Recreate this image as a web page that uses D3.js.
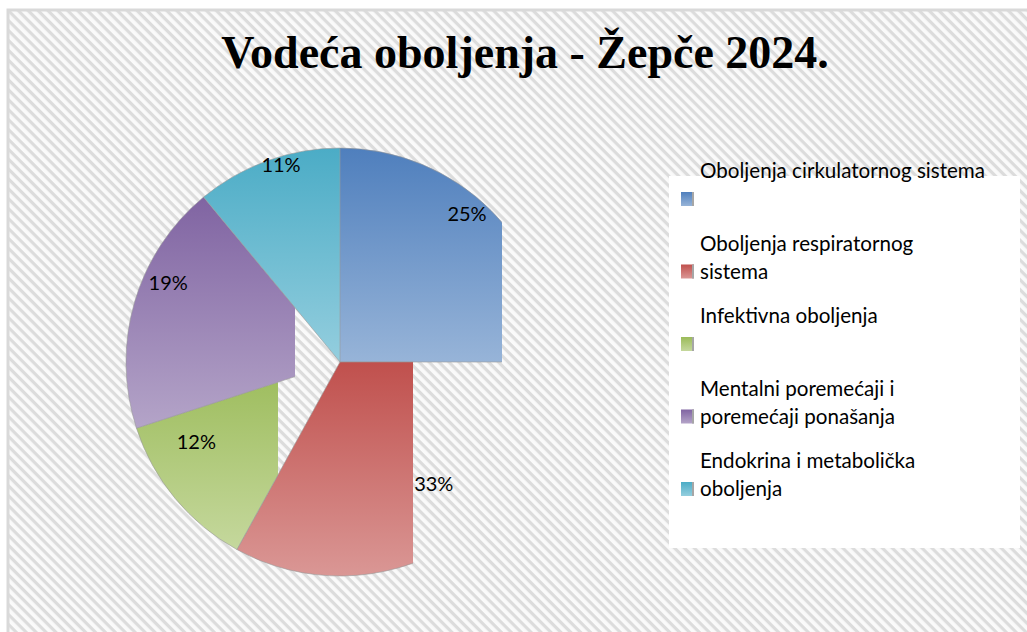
<!DOCTYPE html>
<html>
<head>
<meta charset="utf-8">
<script src="https://cdn.jsdelivr.net/npm/d3@7"></script>
<style>
  body { margin: 0; background: #fff; }
  svg { display: block; }
</style>
</head>
<body>
<div id="chart"></div>
<script>
// data
const title = "Vodeća oboljenja - Žepče 2024.";
const categories = [
  "Oboljenja cirkulatornog sistema",
  "Oboljenja respiratornog sistema",
  "Infektivna oboljenja",
  "Mentalni poremećaji i poremećaji ponašanja",
  "Endokrina i metabolička oboljenja"
];
const values = [25, 33, 12, 19, 11];
// legend text as it wraps in the picture
const legendLines = [
  ["Oboljenja cirkulatornog sistema", ""],
  ["Oboljenja respiratornog", "sistema"],
  ["Infektivna oboljenja", ""],
  ["Mentalni poremećaji i", "poremećaji ponašanja"],
  ["Endokrina i metabolička", "oboljenja"]
];

// styles
const colorTop = ["#4f7fbd", "#c0504d", "#9bbb59", "#8064a2", "#4bacc6"];
const colorBottom = ["#97b4d8", "#da9795", "#c5d89d", "#b4a4c8", "#94cede"];
// odd per-slice clipping seen in the picture (fraction of radius right of centre)
const sliceClip = [0.757, 0.341, -0.29, -0.21, 0.0];
const labelRadius = [0.916, 0.715, 0.766, 0.886, 0.965];
const labelNudge = [-4.6, -7.2, 10.8, 8.8, 3.2]; // degrees

const width = 1027, height = 632;
const cx = 340, cy = 362, r = 214;

const svg = d3.select("#chart").append("svg")
    .attr("width", width)
    .attr("height", height);

const defs = svg.append("defs");

// hatched chart background
const hatch = defs.append("pattern")
    .attr("id", "hatch")
    .attr("patternUnits", "userSpaceOnUse")
    .attr("width", 7)
    .attr("height", 7)
    .attr("patternTransform", "rotate(45)");
hatch.append("rect").attr("width", 7).attr("height", 7).attr("fill", "#fafafa");
hatch.append("rect").attr("width", 7).attr("height", 3.2).attr("fill", "#dcdcdc");

svg.append("rect")
    .attr("x", 8).attr("y", 10)
    .attr("width", width + 20).attr("height", height + 20)
    .attr("fill", "url(#hatch)")
    .attr("stroke", "#d9d9d9")
    .attr("stroke-width", 3);

// title
svg.append("text")
    .attr("x", 525).attr("y", 68)
    .attr("text-anchor", "middle")
    .style("font-family", "'Liberation Serif', serif")
    .style("font-weight", "bold")
    .style("font-size", "46px")
    .attr("fill", "#000")
    .text(title);

// gradients
colorTop.forEach(function (c, i) {
  let g = defs.append("linearGradient")
      .attr("id", "grad" + i)
      .attr("x1", 0).attr("y1", 0).attr("x2", 0).attr("y2", 1);
  g.append("stop").attr("offset", "0%").attr("stop-color", c);
  g.append("stop").attr("offset", "100%").attr("stop-color", colorBottom[i]);
});

// pie
const pie = d3.pie().sort(null).value(d => d);
const arcs = pie(values);
const arc = d3.arc().innerRadius(0).outerRadius(r);

arcs.forEach(function (a, i) {
  defs.append("clipPath")
      .attr("id", "clip" + i)
    .append("rect")
      .attr("x", -r - 4)
      .attr("y", -r - 4)
      .attr("width", r + 4 + sliceClip[i] * r)
      .attr("height", 2 * r + 8);
});

const plot = svg.append("g")
    .attr("transform", "translate(" + cx + "," + cy + ")");

plot.selectAll("path.slice")
    .data(arcs)
  .enter().append("path")
    .attr("class", "slice")
    .attr("d", arc)
    .attr("clip-path", (d, i) => "url(#clip" + i + ")")
    .attr("fill", (d, i) => "url(#grad" + i + ")")
    .attr("stroke", "#9a9a9a")
    .attr("stroke-opacity", 0.6)
    .attr("stroke-width", 1);

// data labels
plot.selectAll("text.label")
    .data(arcs)
  .enter().append("text")
    .attr("class", "label")
    .attr("x", function (d, i) {
      let ang = (d.startAngle + d.endAngle) / 2 + labelNudge[i] * Math.PI / 180;
      return Math.sin(ang) * r * labelRadius[i];
    })
    .attr("y", function (d, i) {
      let ang = (d.startAngle + d.endAngle) / 2 + labelNudge[i] * Math.PI / 180;
      return -Math.cos(ang) * r * labelRadius[i];
    })
    .attr("text-anchor", "middle")
    .attr("dominant-baseline", "central")
    .style("font-family", "Lato, sans-serif")
    .style("font-size", "20px")
    .attr("fill", "#000")
    .text(d => d.data + "%");

// legend
const legend = svg.append("g");
legend.append("rect")
    .attr("x", 669).attr("y", 176)
    .attr("width", 351).attr("height", 372)
    .attr("fill", "#fff");

const rowY = d3.scaleLinear().domain([0, 4]).range([178, 468]);

const items = legend.selectAll("g.item")
    .data(categories)
  .enter().append("g")
    .attr("class", "item")
    .attr("transform", (d, i) => "translate(0," + rowY(i) + ")");

items.append("rect")
    .attr("x", 681).attr("y", 14)
    .attr("width", 13).attr("height", 14)
    .attr("fill", (d, i) => "url(#grad" + i + ")");
items.append("rect")
    .attr("x", 692).attr("y", 14)
    .attr("width", 2).attr("height", 14)
    .attr("fill", "#a6a6a6");

items.each(function (d, i) {
  d3.select(this).selectAll("text")
      .data(legendLines[i])
    .enter().append("text")
      .attr("x", 700)
      .attr("y", (t, j) => j * 28)
      .style("font-family", "Lato, sans-serif")
      .style("font-size", "20.6px")
      .attr("fill", "#000")
      .text(t => t);
});
</script>
</body>
</html>
